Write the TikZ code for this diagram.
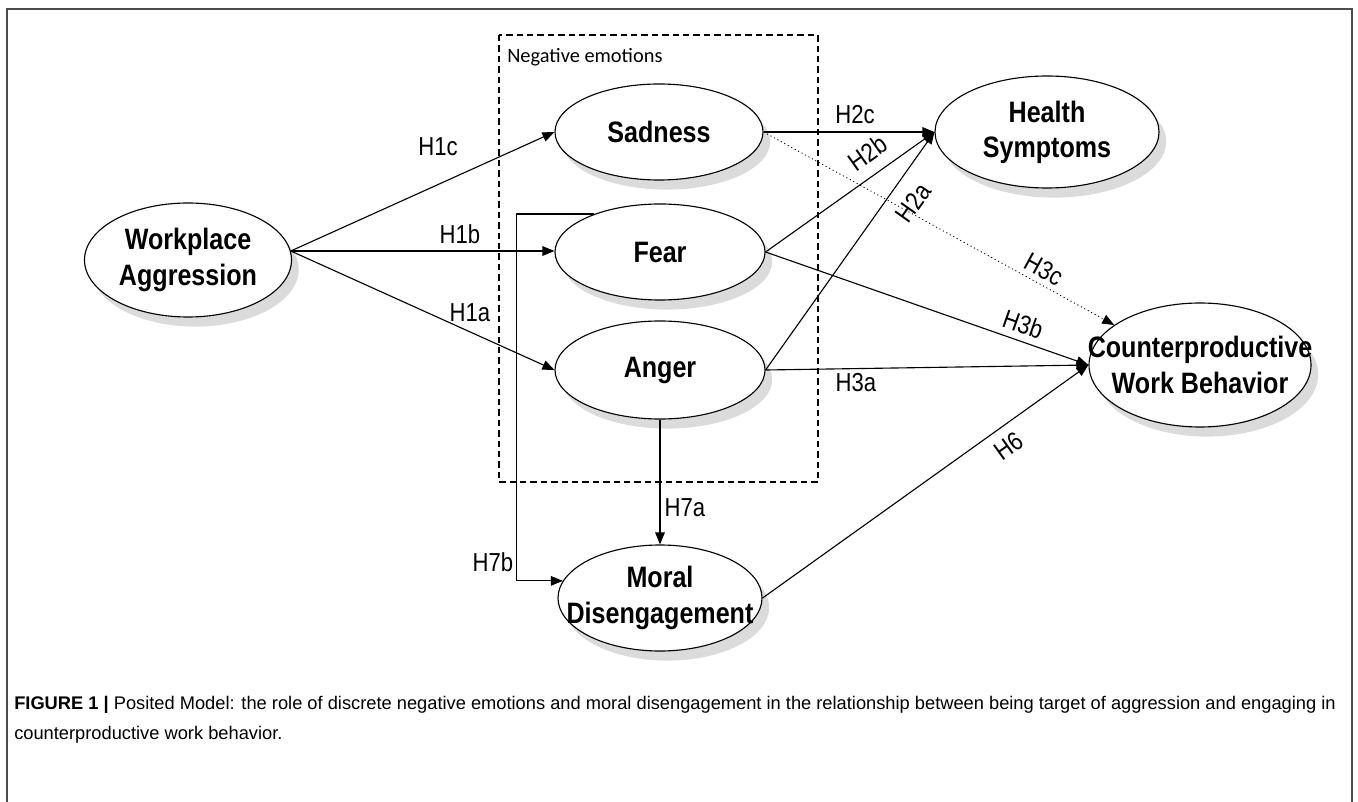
\documentclass[tikz,border=0pt]{standalone}
\usepackage{fontspec}
\setmainfont{Liberation Sans}
\newfontfamily\narrowfont[FakeStretch=0.85]{Liberation Sans}
\newfontfamily\boxfont{Carlito}
\usetikzlibrary{arrows.meta,shapes.geometric,shadows}

\begin{document}
\begin{tikzpicture}[x=0.25mm, y=0.25mm, line join=miter,
	construct/.style={draw, ellipse, fill=white, line width=0.8pt, inner sep=-40pt, align=center,
		font=\narrowfont\bfseries\fontsize{21}{25}\selectfont,
		drop shadow={shadow xshift=1.8mm, shadow yshift=-2.4mm, fill=black!14, opacity=1}},
	link/.style={-{Triangle[length=3mm, width=2.4mm]}, line width=0.8pt},
	hyp/.style={font=\narrowfont\fontsize{18.5}{20}\selectfont, inner sep=2pt}]
	\useasboundingbox (0,0) rectangle (1358,-802);
	% frame
	\draw[black!70, line width=1.3pt] (7,-802) -- (7,-9) -- (1352,-9) -- (1352,-802);

	% Negative emotions
	\draw[dashed, dash pattern=on 1.6mm off 1mm, line width=0.8pt] (499,-35) rectangle (818,-482);
	\node[anchor=west, font=\boxfont\fontsize{14.5}{16}\selectfont, inner sep=0pt] (neg) at (507,-57) {Negative emotions};

	% constructs
	\node[construct, minimum width=51.75mm, minimum height=28.5mm] (wa) at (188,-260) {Workplace\\Aggression};
	\node[construct, minimum width=52mm, minimum height=24mm] (sad) at (659,-132) {Sadness};
	\node[construct, minimum width=52.5mm, minimum height=24mm] (fear) at (660,-252) {Fear};
	\node[construct, minimum width=52.5mm, minimum height=24.5mm] (anger) at (660,-370) {Anger};
	\node[construct, minimum width=56mm, minimum height=28mm] (hs) at (1047,-132) {Health\\Symptoms};
	\node[construct, minimum width=55.5mm, minimum height=31mm] (cwb) at (1200,-365) {Counterproductive\\Work Behavior};
	\node[construct, minimum width=51mm, minimum height=26.5mm] (moral) at (660,-598) {Moral\\Disengagement};

	% H1
	\draw[link] (wa.5) -- (sad.west);
	\draw[link] (wa.5) -- (fear.west |- wa.5);
	\draw[link] (wa.5) -- (anger.west);
	\node[hyp] (h1c) at (438,-147) {H1c};
	\node[hyp] (h1b) at (460,-234) {H1b};
	\node[hyp] (h1a) at (470,-313) {H1a};

	% H2
	\draw[link] (sad.east) -- (hs.west);
	\node[hyp] (h2c) at (855,-115) {H2c};
	\draw[link] (fear.east) -- (hs.west) node[hyp, sloped, above=6pt, pos=0.68] (h2b) {H2b};
	\draw[link] (anger.east) -- (hs.west) node[hyp, sloped, below=8pt, pos=0.76] (h2a) {H2a};

	% H3
	\draw[link, dotted, line width=0.6pt] (sad.east) -- (cwb.155) node[hyp, sloped, above=2pt, pos=0.78] (h3c) {H3c};
	\draw[link] (fear.east) -- (cwb.west) node[hyp, sloped, above=3pt, pos=0.78] (h3b) {H3b};
	\draw[link] (anger.east) -- (cwb.west);
	\node[hyp] (h3a) at (856,-383) {H3a};

	% H6, H7
	\draw[link] (moral.east) -- (cwb.west) node[hyp, sloped, below=5pt, pos=0.72] (h6) {H6};
	\draw[link] (anger.south) -- (moral.north);
	\node[hyp] (h7a) at (685,-508) {H7a};
	\draw[link] (fear.150) -- ++(-78,0) |- (moral.170);
	\node[hyp] (h7b) at (493,-562) {H7b};

	% caption
	\node[anchor=north west, align=left, inner sep=0pt, font=\fontsize{13}{21}\selectfont] (cap) at (14,-696)
		{\textbf{FIGURE 1 |} Posited Model: the role of discrete negative emotions and moral disengagement in the relationship between being target of aggression and engaging in\\counterproductive work behavior.};
\end{tikzpicture}
\end{document}
